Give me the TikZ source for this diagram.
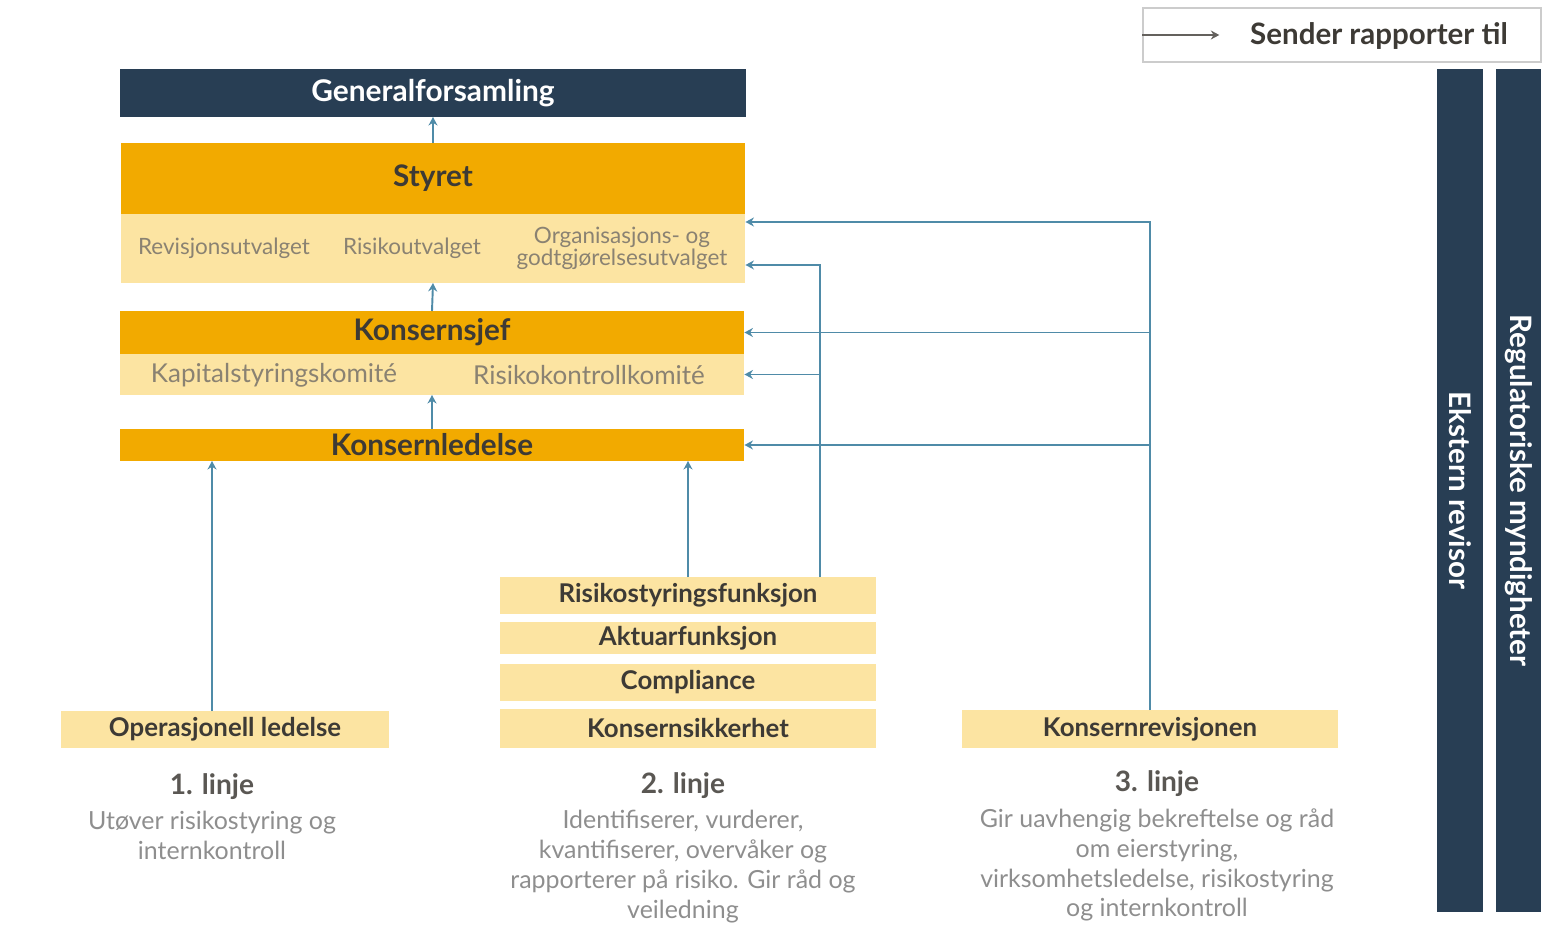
\documentclass[tikz,border=0pt]{standalone}
\usepackage{fontspec}
\setmainfont{Lato}
\usetikzlibrary{arrows.meta,positioning,calc}
\definecolor{govnavy}{HTML}{283E54}
\definecolor{govorange}{HTML}{F2AA00}
\definecolor{govlight}{HTML}{FCE4A2}
\definecolor{govline}{HTML}{4F8BA8}
\definecolor{govtext}{HTML}{3D3A35}
\definecolor{govsub}{HTML}{8A8272}
\definecolor{govdesc}{HTML}{8E8E8E}

\begin{document}
\begin{tikzpicture}[x=0.02cm, y=-0.02cm, >={Stealth[length=1.7mm,width=1.8mm]}]
  \tikzstyle{topbox}=[fill=govnavy,text=white,inner sep=0pt,outer sep=0pt,font=\fontsize{17}{19}\selectfont\bfseries]
  \tikzstyle{mainbox}=[fill=govorange,text=govtext,inner sep=0pt,outer sep=0pt,minimum width=12.5cm,font=\fontsize{16.9}{19}\selectfont\bfseries]
  \tikzstyle{subband}=[fill=govlight,inner sep=0pt,outer sep=0pt,minimum width=12.5cm]
  \tikzstyle{linebox}=[fill=govlight,text=govtext,inner sep=0pt,outer sep=0pt,minimum width=7.52cm,font=\fontsize{14.7}{16}\selectfont\bfseries]
  \tikzstyle{subtxt}=[text=govsub,align=center,inner sep=0pt]
  \tikzstyle{linetitle}=[text=govtext!85,font=\fontsize{16}{18}\selectfont\bfseries]
  \tikzstyle{linedesc}=[text=govdesc,align=center,font=\fontsize{14.2}{17}\selectfont,inner sep=0pt]
  \tikzstyle{sidebar}=[fill=govnavy,text=white,rotate=-90,inner sep=0pt,minimum width=16.86cm,font=\fontsize{16.8}{19}\selectfont\bfseries]
  \tikzstyle{rep}=[draw=govline,line width=1.1pt,->]
  \useasboundingbox (0,0) rectangle (1546,925);

  % governing bodies
  \node[topbox,minimum width=12.52cm,minimum height=0.96cm] (gf) at (433,93) {Generalforsamling};
  \node[mainbox,minimum height=1.42cm] (styret) at (433,178.5) {Styret};
  \node[subband,minimum height=1.38cm,below=0pt of styret] (styretsub) {};
  \node[subtxt,font=\fontsize{12.8}{12.5}\selectfont] (revu) at (224,248) {Revisjonsutvalget};
  \node[subtxt,font=\fontsize{12.8}{12.5}\selectfont] (risu) at (412,248) {Risikoutvalget};
  \node[subtxt,font=\fontsize{12.8}{12.5}\selectfont] (orgu) at (622,248) {Organisasjons- og\\godtgjørelsesutvalget};
  \node[mainbox,minimum height=0.86cm] (ksjef) at (432,332.5) {Konsernsjef};
  \node[subband,minimum height=0.82cm,below=0pt of ksjef] (ksjefsub) {};
  \node[subtxt,font=\fontsize{14.8}{16}\selectfont] (kapk) at (274,375) {Kapitalstyringskomité};
  \node[subtxt,font=\fontsize{14.8}{16}\selectfont] (rkk) at (589,375) {Risikokontrollkomité};
  \node[mainbox,minimum height=0.64cm] (kled) at (432,445) {Konsernledelse};

  % the three lines
  \node[linebox,minimum width=6.56cm,minimum height=0.74cm] (opl) at (225,729.5) {Operasjonell ledelse};
  \node[linebox,minimum height=0.74cm] (rsf) at (688,595.5) {Risikostyringsfunksjon};
  \node[linebox,minimum height=0.64cm,below=0.16cm of rsf] (akt) {Aktuarfunksjon};
  \node[linebox,minimum height=0.74cm,below=0.2cm of akt] (comp) {Compliance};
  \node[linebox,minimum height=0.78cm,below=0.16cm of comp] (ksik) {Konsernsikkerhet};
  \node[linebox,minimum height=0.76cm] (krev) at (1150,729) {Konsernrevisjonen};

  \node[linetitle] (l1) at (212,787) {1. linje};
  \node[linedesc,below=0.1cm of l1] (d1) {Utøver risikostyring og\\internkontroll};
  \node[linetitle] (l2) at (683,786) {2. linje};
  \node[linedesc,below=0.1cm of l2] (d2) {Identifiserer, vurderer,\\kvantifiserer, overvåker og\\rapporterer på risiko. Gir råd og\\veiledning};
  \node[linetitle] (l3) at (1157,784) {3. linje};
  \node[linedesc,below=0.1cm of l3] (d3) {Gir uavhengig bekreftelse og råd\\om eierstyring,\\virksomhetsledelse, risikostyring\\og internkontroll};

  % legend and external parties
  \node[draw=gray!40,line width=0.8pt,minimum width=7.96cm,minimum height=1.08cm,inner sep=0pt] (legend) at (1342,35) {};
  \node[text=govtext,font=\fontsize{16.8}{19}\selectfont\bfseries] (legtxt) at (1379,36) {Sender rapporter til};
  \coordinate (legend-tip) at ([xshift=1.54cm]legend.west);
  \draw[draw=govtext!80,line width=0.9pt,->] (legend.west) -- (legend-tip);
  \node[sidebar,minimum height=0.92cm] (ekst) at (1460,490.5) {Ekstern revisor};
  \node[sidebar,minimum height=0.9cm] (reg) at (1518.5,490.5) {Regulatoriske myndigheter};

  % reporting lines
  \draw[rep] (styret.north) -- (gf.south);
  \draw[rep] (ksjef.north) -- (styretsub.south);
  \draw[rep] (kled.north) -- (ksjefsub.south);
  \draw[rep] ([xshift=-0.26cm]opl.north) -- ([xshift=-0.26cm]opl.north |- kled.south);
  \draw[rep] (rsf.north) -- (rsf.north |- kled.south);
  \coordinate (rsf-out) at ([xshift=2.64cm]rsf.north);
  \draw[rep] (rsf-out) |- ([yshift=-0.33cm]styretsub.east);
  \draw[rep] (rsf-out |- ksjefsub.east) -- (ksjefsub.east);
  \draw[rep] (krev.north) |- ([yshift=0.53cm]styretsub.east);
  \draw[rep] (krev.north |- ksjef.east) -- (ksjef.east);
  \draw[rep] (krev.north |- kled.east) -- (kled.east);
\end{tikzpicture}
\end{document}
